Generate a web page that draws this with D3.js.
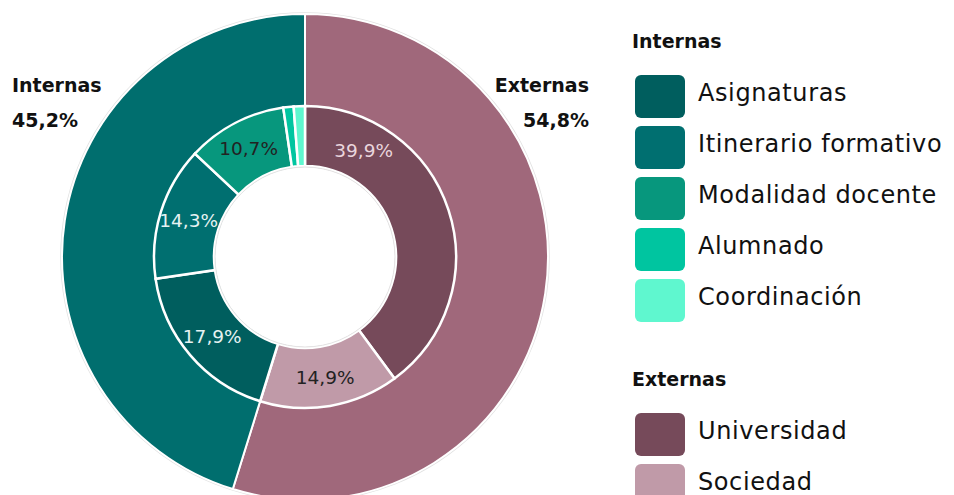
<!DOCTYPE html>
<html>
<head>
<meta charset="utf-8">
<script src="https://cdn.jsdelivr.net/npm/d3@7"></script>
<style>
body { margin: 0; background: #fff; }
svg { font-family: "DejaVu Sans", sans-serif; }
.big { font-weight: bold; font-size: 19px; fill: #111; }
.leg { font-size: 24px; fill: #111; letter-spacing: 0.6px; }
.pct { font-size: 18.5px; }
</style>
</head>
<body>
<div id="graphHere"></div>
<script>
// outer ring
var groups = ["Externas", "Internas"];
var groupValues = [54.8, 45.2];
var groupColors = ["#a0687b", "#006e6e"];

// inner ring (same order, clockwise from top)
var subCats = ["Universidad", "Sociedad", "Asignaturas", "Itinerario formativo", "Modalidad docente", "Alumnado", "Coordinación"];
var subValues = [39.9, 14.9, 17.9, 14.3, 10.7, 1.1, 1.2];
var subColors = ["#764a5a", "#c09aa8", "#005e5e", "#006f70", "#07977d", "#00c5a0", "#5ff7cf"];
var subLabelColors = ["#ead6dd", "#222", "#e6f2f2", "#e6f2f2", "#222", null, null];

var internas = ["Asignaturas", "Itinerario formativo", "Modalidad docente", "Alumnado", "Coordinación"];
var externas = ["Universidad", "Sociedad"];

// label is nudged along its slice for the big slice, like the original
var labelFrac = { "Universidad": 0.2 };

var fmt = function(v) { return d3.format(".1f")(v).replace(".", ",") + "%"; };

var W = 954, H = 495;
var cx = 305, cy = 257;
var rOuter = 243, rMid = 151, rHole = 91;

var svg = d3.select("#graphHere").append("svg")
  .attr("width", W)
  .attr("height", H);

var g = svg.append("g").attr("transform", "translate(" + cx + "," + cy + ")");

var pie = d3.pie().sort(null).value(function(d) { return d; });

g.append("circle")
  .attr("r", rOuter + 1)
  .attr("fill", "none")
  .attr("stroke", "#e2e2e2")
  .attr("stroke-width", 1.5);

var outerArc = d3.arc().innerRadius(0).outerRadius(rOuter);
g.selectAll("path.outer")
  .data(pie(groupValues))
  .enter().append("path")
  .attr("class", "outer")
  .attr("d", outerArc)
  .attr("fill", function(d, i) { return groupColors[i]; })
  .attr("stroke", "#fff")
  .attr("stroke-width", 2);

var innerArc = d3.arc().innerRadius(rHole).outerRadius(rMid);
var innerData = pie(subValues);
g.selectAll("path.inner")
  .data(innerData)
  .enter().append("path")
  .attr("class", "inner")
  .attr("d", innerArc)
  .attr("fill", function(d, i) { return subColors[i]; })
  .attr("stroke", "#fff")
  .attr("stroke-width", 2.5);

g.append("circle")
  .attr("r", rHole - 1)
  .attr("fill", "#fff")
  .attr("stroke", "#e4e4e4")
  .attr("stroke-width", 1);

var labelR = (rHole + rMid) / 2 + 1;
g.selectAll("text.pct")
  .data(innerData.filter(function(d, i) { return subLabelColors[i]; }))
  .enter().append("text")
  .attr("class", "pct")
  .attr("text-anchor", "middle")
  .attr("dominant-baseline", "central")
  .attr("fill", function(d) { return subLabelColors[d.index]; })
  .attr("transform", function(d) {
    var f = labelFrac[subCats[d.index]] || 0.5;
    var a = d.startAngle + (d.endAngle - d.startAngle) * f;
    return "translate(" + (labelR * Math.sin(a)) + "," + (-labelR * Math.cos(a)) + ")";
  })
  .text(function(d) { return fmt(d.value); });

// group labels
svg.append("text").attr("class", "big").attr("x", 12).attr("y", 92).text(groups[1]);
svg.append("text").attr("class", "big").attr("x", 12).attr("y", 127).text(fmt(groupValues[1]));
svg.append("text").attr("class", "big").attr("x", 589).attr("y", 92).attr("text-anchor", "end").text(groups[0]);
svg.append("text").attr("class", "big").attr("x", 589).attr("y", 127).attr("text-anchor", "end").text(fmt(groupValues[0]));

// legend
var colorOf = d3.scaleOrdinal().domain(subCats).range(subColors);
function legend(title, items, y0) {
  var lg = svg.append("g").attr("transform", "translate(632," + y0 + ")");
  lg.append("text").attr("class", "big").attr("x", 0).attr("y", 0).text(title);
  var row = lg.selectAll("g.row")
    .data(items)
    .enter().append("g")
    .attr("class", "row")
    .attr("transform", function(d, i) { return "translate(0," + (27 + i * 51) + ")"; });
  row.append("rect")
    .attr("x", 3).attr("width", 50).attr("height", 43)
    .attr("rx", 6).attr("ry", 6)
    .attr("fill", function(d) { return colorOf(d); });
  row.append("text")
    .attr("class", "leg")
    .attr("x", 66).attr("y", 18)
    .attr("dominant-baseline", "central")
    .text(function(d) { return d; });
}
legend("Internas", internas, 48);
legend("Externas", externas, 386);
</script>
</body>
</html>
